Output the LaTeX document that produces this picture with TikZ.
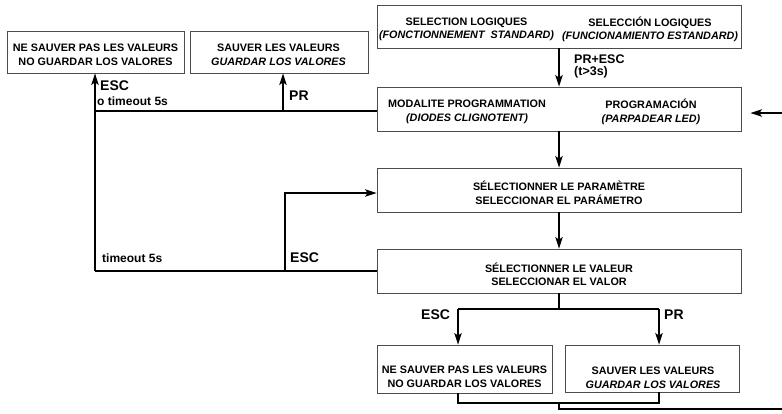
\documentclass[tikz,border=0pt]{standalone}
\usepackage{fontspec}
\setmainfont{Liberation Sans}
\usetikzlibrary{arrows.meta}
\begin{document}
\begin{tikzpicture}[x=1pt,y=-1pt,
 box/.style={draw=black!70, line width=0.9pt, inner sep=0pt},
 btxt/.style={font=\fontsize{10.8}{13.5}\selectfont\bfseries, align=center, inner sep=0pt},
 lbl/.style={font=\fontsize{14}{16}\selectfont\bfseries, anchor=west, inner sep=0pt},
 slbl/.style={font=\fontsize{12.5}{14}\selectfont\bfseries, anchor=west, inner sep=0pt},
 ln/.style={line width=1.4pt},
 arr/.style={ln, -{Stealth[length=11.5pt,width=7.5pt,inset=2.5pt]}}]

\useasboundingbox (0,0) rectangle (782,413);

% boxes
\node[box, minimum width=177pt, minimum height=42pt] (nsv1) at (95.5,52) {};
\node[box, minimum width=178pt, minimum height=42pt] (sv1) at (279,52) {};
\node[box, minimum width=364pt, minimum height=43pt] (top) at (559,26.5) {};
\node[box, minimum width=364pt, minimum height=44pt] (prog) at (559,109) {};
\node[box, minimum width=364pt, minimum height=44pt] (selp) at (559,190) {};
\node[box, minimum width=364pt, minimum height=44pt] (selv) at (559,271) {};
\node[box, minimum width=175pt, minimum height=48pt] (nsv2) at (464.5,369) {};
\node[box, minimum width=174pt, minimum height=47pt] (sv2) at (652,368.5) {};

% box texts
\node[btxt] (t-nsv1) at (95.5,55) {NE SAUVER PAS LES VALEURS\\NO GUARDAR LOS VALORES};
\node[btxt] (t-sv1) at (278.5,55) {SAUVER LES VALEURS\\\itshape GUARDAR LOS VALORES};
\node[btxt] (t-topl) at (466.5,29.5) {SELECTION LOGIQUES\\\itshape (FONCTIONNEMENT\ \ STANDARD)};
\node[btxt] (t-topr) at (650,29.5) {SELECCIÓN LOGIQUES\\\itshape (FUNCIONAMIENTO ESTANDARD)};
\node[btxt] (t-progl) at (467,112) {MODALITE PROGRAMMATION\\\itshape (DIODES CLIGNOTENT)};
\node[btxt] (t-progr) at (651,112) {PROGRAMACIÓN\\\itshape (PARPADEAR LED)};
\node[btxt] (t-selp) at (559,193) {SÉLECTIONNER LE PARAMÈTRE\\SELECCIONAR EL PARÁMETRO};
\node[btxt] (t-selv) at (559,274.5) {SÉLECTIONNER LE VALEUR\\SELECCIONAR EL VALOR};
\node[btxt] (t-nsv2) at (464.5,377) {NE SAUVER PAS LES VALEURS\\NO GUARDAR LOS VALORES};
\node[btxt] (t-sv2) at (653,378) {SAUVER LES VALEURS\\\itshape GUARDAR LOS VALORES};

% coordinates
\coordinate (split) at (559,309);
\coordinate (escT) at (458,309);
\coordinate (prT) at (659,309);
\coordinate (jl) at (458,403);
\coordinate (jr) at (659,403);
\coordinate (jm) at (559,403);
\coordinate (rb) at (559,409);
\coordinate (re) at (782,409);
\coordinate (rin) at (782,113);
\coordinate (L1) at (95,111);
\coordinate (L2) at (95,271);
\coordinate (P1) at (283,111);
\coordinate (E1) at (285,271);
\coordinate (E2) at (285,193);

% connectors
\draw[arr] (top.south) -- (prog.north);
\draw[arr] (prog.south) -- (selp.north);
\draw[arr] (selp.south) -- (selv.north);
\draw[ln] (selv.south) -- (split);
\draw[ln] (escT) -- (prT);
\draw[arr] (escT) -- (escT |- nsv2.north);
\draw[arr] (prT) -- (prT |- sv2.north);
\draw[ln] (jl |- nsv2.south) -- (jl) -- (jr) -- (jr |- sv2.south);
\draw[ln] (jm) -- (rb) -- (re);
\draw[arr, shorten >=9pt] (rin) -- (rin -| prog.east);
\draw[ln] (L1 -| prog.west) -- (L1);
\draw[arr] (P1) -- (P1 |- sv1.south);
\draw[ln] (selv.west) -- (L2);
\draw[arr] (L2) -- (L2 |- nsv1.south);
\draw[arr] (E1) -- (E2) -- (E2 -| selp.west);

% labels
\node[slbl] (l-pe) at (574,59) {PR+ESC};
\node[slbl] (l-t3) at (574,72) {(t>3s)};
\node[lbl] (l-esc1) at (100,85.5) {ESC};
\node[slbl, font=\fontsize{12}{14}\selectfont\bfseries] (l-to1) at (97,101) {o timeout 5s};
\node[lbl] (l-pr1) at (289,96) {PR};
\node[slbl, font=\fontsize{12}{14}\selectfont\bfseries] (l-to2) at (102,258) {timeout 5s};
\node[lbl] (l-esc2) at (290,258) {ESC};
\node[lbl] (l-esc3) at (421,315) {ESC};
\node[lbl] (l-pr3) at (664,315) {PR};
\end{tikzpicture}
\end{document}
